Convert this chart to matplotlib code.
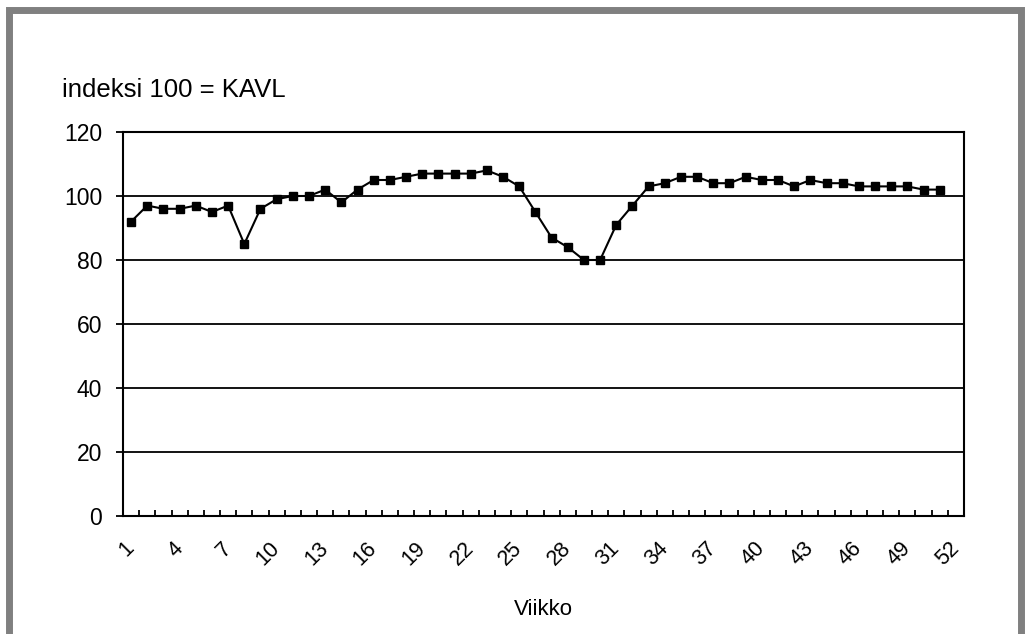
import numpy as np
import matplotlib.pyplot as plt
from matplotlib.patches import Rectangle

plt.rcParams['font.family'] = ['Liberation Sans', 'DejaVu Sans']

weeks = np.arange(1, 52)
values = [92, 97, 96, 96, 97, 95, 97, 85, 96, 99,
          100, 100, 102, 98, 102, 105, 105, 106, 107, 107,
          107, 107, 108, 106, 103, 95, 87, 84, 80, 80,
          91, 97, 103, 104, 106, 106, 104, 104, 106, 105,
          105, 103, 105, 104, 104, 103, 103, 103, 103, 102,
          102]
tick_weeks = np.arange(1, 53, 3)
y_ticks = [0, 20, 40, 60, 80, 100, 120]

fig = plt.figure(figsize=(10.28, 6.34), dpi=100)
# grey frame (no bottom edge visible)
fig.patches.append(Rectangle((9 / 1028, -0.1), 1012 / 1028, 1.1 - 10 / 634,
                             transform=fig.transFigure, fill=False,
                             edgecolor='#808080', linewidth=5))

ax = fig.add_axes([123 / 1028, 1 - 516 / 634, 841 / 1028, 384 / 634])
ax.plot(weeks, values, color='black', linewidth=1.5, marker='s',
        markersize=6, markerfacecolor='black', markeredgecolor='black')

ax.set_xlim(0.5, 52.5)
ax.set_ylim(0, 120)
ax.set_yticks(y_ticks)
ax.yaxis.grid(True, color='black', linewidth=1.3)
ax.set_axisbelow(True)
ax.tick_params(axis='y', direction='out', length=5, width=1.3,
               labelsize=16.5, pad=10)

ax.set_xticks(np.arange(0.5, 53, 1), minor=True)
ax.set_xticks(tick_weeks)
ax.set_xticklabels([str(w) for w in tick_weeks], rotation=45, ha='right',
                   va='center', rotation_mode='anchor', fontsize=15.5)
ax.tick_params(axis='x', which='major', length=0, pad=21)
ax.tick_params(axis='x', which='minor', direction='in', length=4, width=1.3)

for s in ax.spines.values():
    s.set_linewidth(1.5)

ax.set_xlabel('Viikko', fontsize=16, labelpad=21)
fig.text(62 / 1028, 1 - 90 / 634, 'indeksi 100 = KAVL', fontsize=18.5,
         va='center', ha='left')

fig.savefig('out.png', dpi=100)
